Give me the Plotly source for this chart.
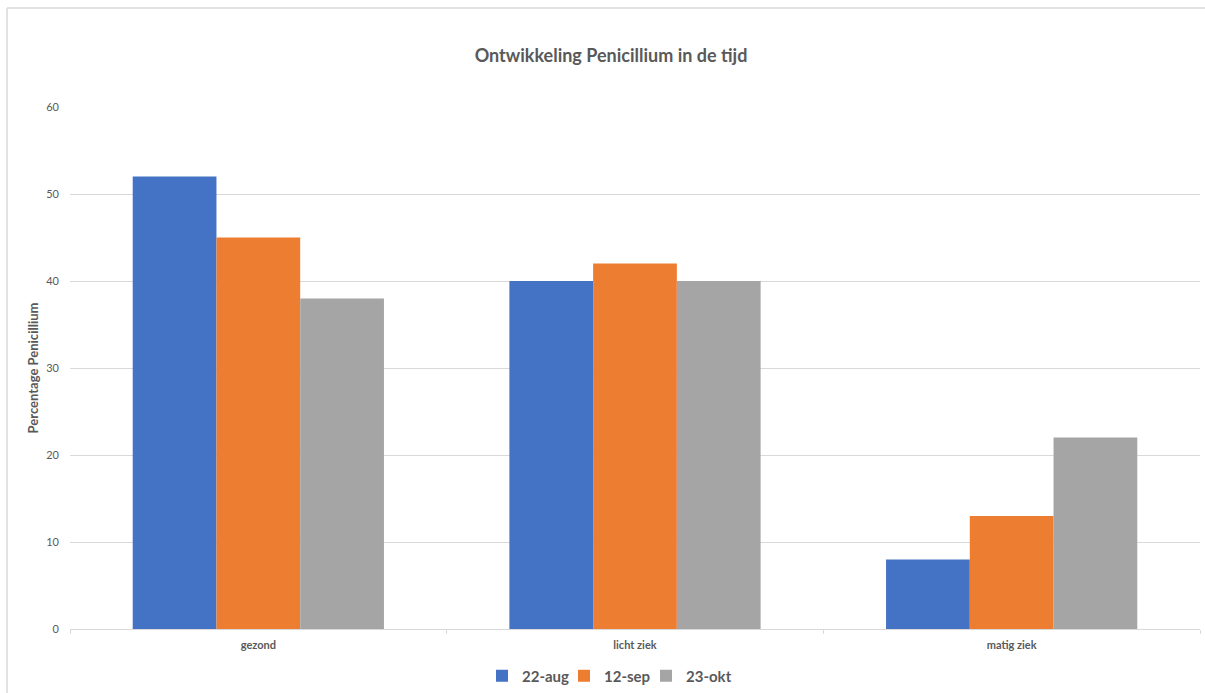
import plotly.graph_objects as go

categories = ["gezond", "licht ziek", "matig ziek"]
series_names = ["22-aug", "12-sep", "23-okt"]
values_aug = [52, 40, 8]
values_sep = [45, 42, 13]
values_okt = [38, 40, 22]
colors = ["#4472C4", "#ED7D31", "#A5A5A5"]
y_ticks = [0, 10, 20, 30, 40, 50, 60]

W, H = 1205, 693
ML, MR, MT, MB = 70, 5, 107, 64
FONT = "Lato, 'Open Sans', sans-serif"
TXT = "#595959"

pw = W - ML - MR
ph = H - MT - MB

legend_ids = ["legend2", "legend3", "legend4"]
legend_symbol_px = [501, 583, 665]   # symbol centres (pixels)

fig = go.Figure()
for name, vals, col, lid in zip(series_names, [values_aug, values_sep, values_okt], colors, legend_ids):
    fig.add_trace(go.Bar(
        x=categories, y=vals, name=name, legend=lid, showlegend=True,
        marker=dict(color=col, line=dict(width=0)),
        hoverinfo="x+y+name",
    ))

x0 = (7 - ML) / pw
y1 = 1 + (MT - 8) / ph
leg_y = -(676 - (H - MB)) / ph

legend_layout = {}
for lid, px in zip(legend_ids, legend_symbol_px):
    legend_layout[lid] = dict(
        orientation="h", x=(px - 19 - ML) / pw, xanchor="left", y=leg_y, yanchor="middle",
        font=dict(size=15, color=TXT, family=FONT, weight="bold"),
        itemwidth=30, bgcolor="rgba(0,0,0,0)", visible=True,
    )

fig.update_layout(
    width=W, height=H,
    showlegend=True,
    margin=dict(l=ML, r=MR, t=MT, b=MB, autoexpand=False),
    paper_bgcolor="white", plot_bgcolor="white",
    barmode="group", bargap=0.333, bargroupgap=0,
    font=dict(family=FONT, color=TXT),
    title=dict(text="<b>Ontwikkeling Penicillium in de tijd</b>",
               x=611 / W, xanchor="center", y=1 - 56 / H, yanchor="middle",
               font=dict(size=18, color=TXT, family=FONT)),
    xaxis=dict(
        showgrid=False, showline=True, linecolor="#D9D9D9", linewidth=1,
        ticks="outside", tickson="boundaries", ticklen=4, tickcolor="#D9D9D9",
        tickfont=dict(size=11, color=TXT, family=FONT, weight="bold"),
        ticklabelstandoff=6, automargin=False,
    ),
    yaxis=dict(
        range=[0, 60], tickvals=y_ticks, showgrid=True, gridcolor="#D9D9D9",
        gridwidth=1, zeroline=False, showline=False, automargin=False,
        tickfont=dict(size=11, color=TXT, family=FONT),
        ticklabelstandoff=10,
        title=dict(text="<b>Percentage Penicillium</b>", font=dict(size=13, color=TXT, family=FONT),
                   standoff=4),
    ),
    shapes=[
        dict(type="line", xref="paper", yref="paper", x0=x0, x1=x0, y0=y1, y1=-2,
             line=dict(color="#D9D9D9", width=1.5)),
        dict(type="line", xref="paper", yref="paper", x0=x0, x1=1.1, y0=y1, y1=y1,
             line=dict(color="#D9D9D9", width=1.5)),
    ],
    **legend_layout,
)

fig.write_html("out.html")
